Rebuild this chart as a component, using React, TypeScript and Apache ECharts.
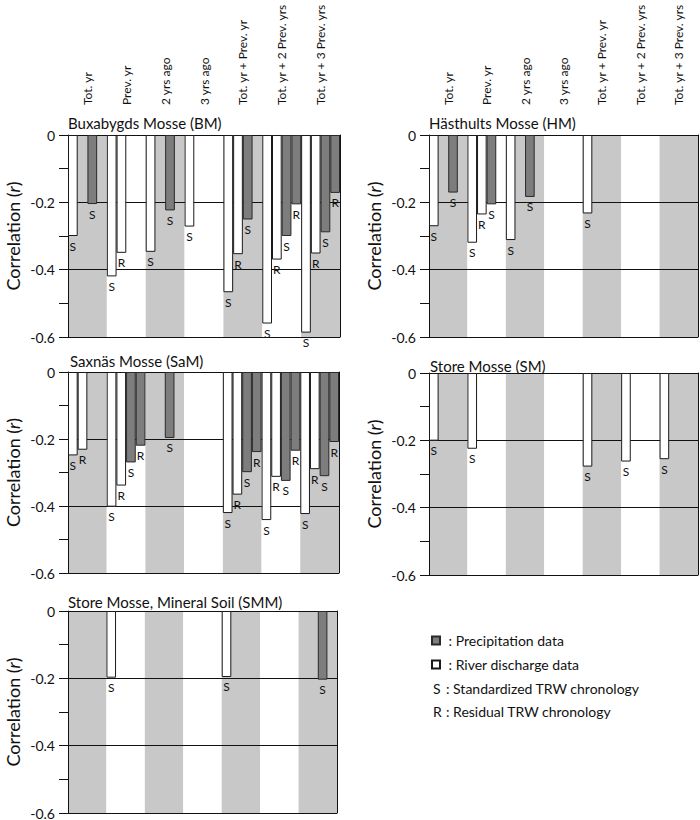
import React, { useEffect, useRef } from "react";
import * as echarts from "echarts";

const categories = [
  "Tot. yr",
  "Prev. yr",
  "2 yrs ago",
  "3 yrs ago",
  "Tot. yr + Prev. yr",
  "Tot. yr + 2 Prev. yrs",
  "Tot. yr + 3 Prev. yrs",
];

const panelTitles = [
  "Buxabygds Mosse (BM)",
  "Hästhults Mosse (HM)",
  "Saxnäs Mosse (SaM)",
  "Store Mosse (SM)",
  "Store Mosse, Mineral Soil (SMM)",
];

// river discharge, standardized (S)
const riverS = [
  [-0.3, -0.42, -0.347, -0.272, -0.467, -0.56, -0.587],
  [-0.271, -0.32, -0.312, null, -0.233, null, null],
  [-0.249, -0.402, null, null, -0.421, -0.442, -0.424],
  [-0.201, -0.225, null, null, -0.278, -0.263, -0.256],
  [null, -0.198, null, null, -0.196, null, null],
];
// river discharge, residual (R)
const riverR = [
  [null, -0.35, null, null, -0.354, -0.37, -0.352],
  [null, -0.236, null, null, null, null, null],
  [-0.232, -0.339, null, null, -0.366, -0.313, -0.29],
  [null, null, null, null, null, null, null],
  [null, null, null, null, null, null, null],
];
// precipitation, standardized (S)
const precipS = [
  [-0.205, null, -0.224, null, -0.251, -0.3, -0.289],
  [-0.171, -0.206, -0.184, null, null, null, null],
  [null, -0.27, -0.197, null, -0.299, -0.325, -0.311],
  [null, null, null, null, null, null, null],
  [null, null, null, null, null, null, -0.204],
];
// precipitation, residual (R)
const precipR = [
  [null, null, null, null, null, -0.206, -0.172],
  [null, null, null, null, null, null, null],
  [null, -0.22, null, null, -0.239, -0.235, -0.209],
  [null, null, null, null, null, null, null],
  [null, null, null, null, null, null, null],
];

const legendNames = ["Precipitation data", "River discharge data"];
const legendLetters = [
  ["S", ": Standardized TRW chronology"],
  ["R", ": Residual TRW chronology"],
];

const FONT = "Lato";

const grids = [
  { left: 68, top: 135, width: 272, height: 202 },
  { left: 429, top: 135, width: 269, height: 202 },
  { left: 68, top: 372, width: 271, height: 201 },
  { left: 429, top: 373, width: 269, height: 202 },
  { left: 68, top: 611, width: 269, height: 202 },
];
const titlePos = [
  { left: 68, top: 115 },
  { left: 429, top: 115 },
  { left: 70, top: 353 },
  { left: 430, top: 358 },
  { left: 68, top: 594 },
];

export default function App() {
  const ref = useRef<HTMLDivElement>(null);
  useEffect(() => {
    if (!ref.current) return;
    const chart = echarts.init(ref.current, null, { renderer: "svg" });

    const xAxis: any[] = [];
    const yAxis: any[] = [];
    const series: any[] = [];
    const title: any[] = [];

    grids.forEach((g, p) => {
      title.push({
        text: panelTitles[p],
        left: titlePos[p].left,
        top: titlePos[p].top,
        padding: 0,
        textStyle: { fontFamily: FONT, fontSize: 15, fontWeight: "normal", color: "#111" },
      });
      xAxis.push({
        type: "category",
        gridIndex: p,
        data: categories,
        position: "top",
        z: 0,
        axisLine: { show: false },
        axisTick: { show: false },
        splitLine: { show: false },
        splitArea: { show: true, areaStyle: { color: ["#c8c8c8", "#ffffff"] } },
        axisLabel: {
          show: p < 2,
          interval: 0,
          rotate: 90,
          margin: 30,
          fontFamily: FONT,
          fontSize: 12,
          color: "#111",
        },
      });
      yAxis.push({
        type: "value",
        gridIndex: p,
        min: -0.6,
        max: 0,
        interval: 0.1,
        z: 1,
        name: "Correlation ({i|r})",
        nameLocation: "middle",
        nameGap: 46,
        nameTextStyle: {
          fontFamily: FONT,
          fontSize: 18,
          color: "#111",
          rich: { i: { fontStyle: "italic", fontFamily: FONT, fontSize: 18, color: "#111" } },
        },
        axisLine: { show: true, lineStyle: { color: "#111", width: 1 } },
        axisTick: { show: true, length: 9, lineStyle: { color: "#111" } },
        axisLabel: {
          margin: 13,
          fontFamily: FONT,
          fontSize: 14,
          color: "#111",
          formatter: (v: number) => {
            const k = Math.round(v * 10);
            if (k % 2 !== 0) return "";
            return k === 0 ? "0" : (k / 10).toFixed(1);
          },
        },
        splitLine: {
          show: true,
          lineStyle: {
            color: ["#111", "rgba(0,0,0,0)", "#111", "rgba(0,0,0,0)", "#111", "rgba(0,0,0,0)", "#111"],
            width: 1,
          },
        },
      });
      yAxis.push({
        type: "value",
        gridIndex: p,
        min: -0.6,
        max: 0,
        position: "right",
        z: 1,
        axisLine: { show: true, lineStyle: { color: "#111", width: 1 } },
        axisTick: { show: false },
        axisLabel: { show: false },
        splitLine: { show: false },
      });

      const mk = (name: string, data: (number | null)[], letter: string, dark: boolean) => ({
        type: "bar",
        name,
        xAxisIndex: p,
        yAxisIndex: p * 2,
        data,
        barGap: "0%",
        barCategoryGap: "0%",
        itemStyle: dark
          ? { color: "#7d7d7d", borderColor: "#2a2a2a", borderWidth: 1 }
          : { color: "#ffffff", borderColor: "#1a1a1a", borderWidth: 1 },
        label: {
          show: true,
          position: "bottom",
          distance: 4,
          formatter: letter,
          fontFamily: FONT,
          fontSize: 12,
          color: "#111",
        },
      });
      series.push(mk(legendNames[1], riverS[p], "S", false));
      series.push(mk(legendNames[1], riverR[p], "R", false));
      series.push(mk(legendNames[0], precipS[p], "S", true));
      series.push(mk(legendNames[0], precipR[p], "R", true));
    });

    const graphic: any[] = [];
    legendLetters.forEach((row, i) => {
      const y = 688.5 + i * 23;
      graphic.push({
        type: "text",
        x: 433,
        y,
        style: { text: row[0], fontFamily: FONT, fontSize: 14, fill: "#111", verticalAlign: "middle" },
      });
      graphic.push({
        type: "text",
        x: 446,
        y,
        style: { text: row[1], fontFamily: FONT, fontSize: 14, fill: "#111", verticalAlign: "middle" },
      });
    });

    chart.setOption({
      animation: false,
      textStyle: { fontFamily: FONT },
      title,
      grid: grids.map((g) => ({ ...g, containLabel: false, outerBoundsMode: "none" })),
      xAxis,
      yAxis,
      series,
      legend: {
        data: legendNames,
        orient: "vertical",
        left: 431,
        top: 633,
        padding: 0,
        icon: "rect",
        itemWidth: 8,
        itemHeight: 8,
        itemGap: 9,
        selectedMode: false,
        formatter: " : {name}",
        textStyle: { fontFamily: FONT, fontSize: 14, color: "#111", lineHeight: 15 },
      },
      graphic,
    });
    return () => chart.dispose();
  }, []);
  return (
    <div
      ref={ref}
      style={{ position: "fixed", left: 0, top: 0, width: 700, height: 820, background: "#fff" }}
    />
  );
}
